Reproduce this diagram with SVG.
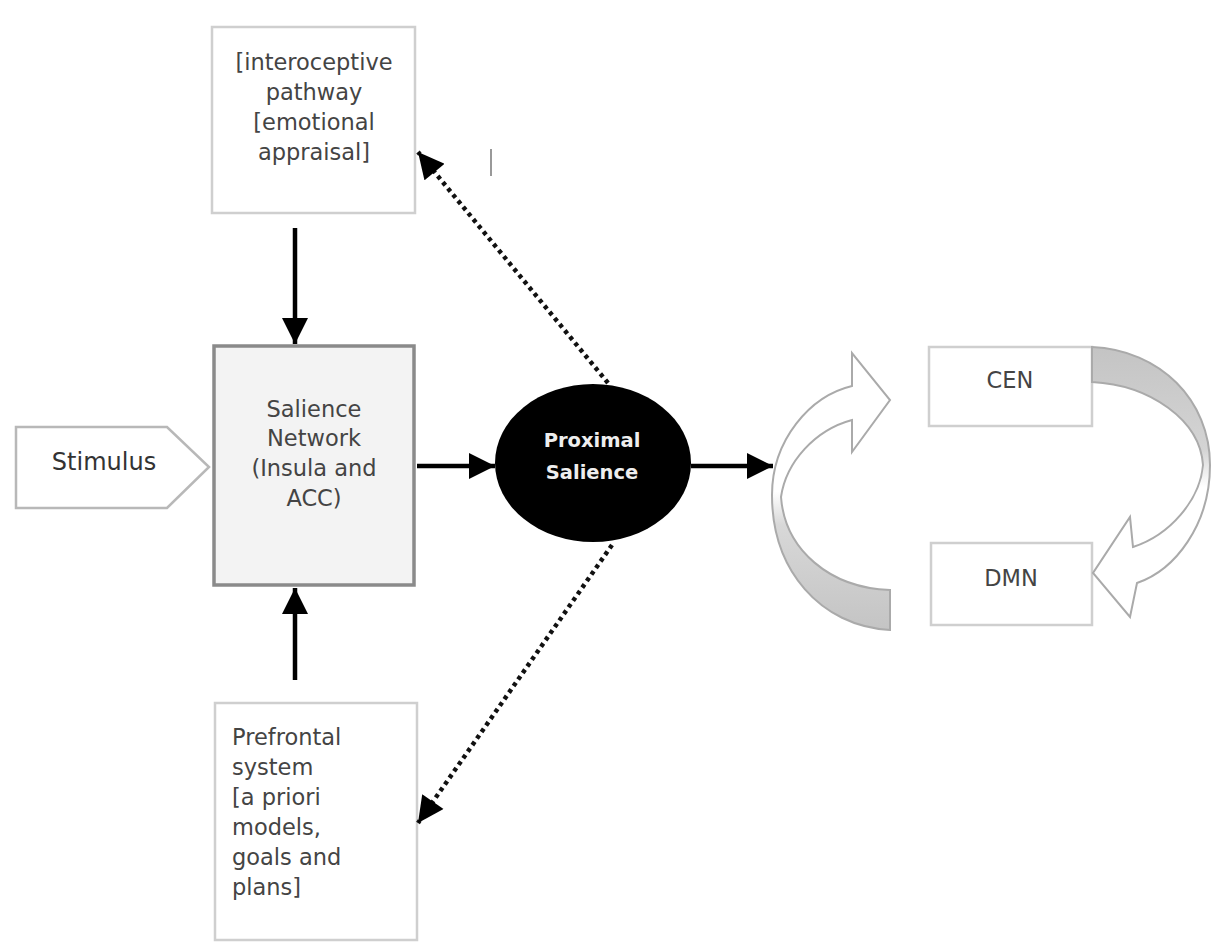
<svg xmlns="http://www.w3.org/2000/svg" width="1211" height="944" viewBox="0 0 1211 944">
<style>
.box{fill:#fff;stroke:#cfcfcf;stroke-width:2.5}
.t{font-family:"DejaVu Sans",Verdana,sans-serif;font-size:22.5px;fill:#444}
.c{text-anchor:middle}
.w{font-family:"DejaVu Sans",Verdana,sans-serif;font-size:19.5px;font-weight:bold;fill:#eee;text-anchor:middle}
.solid{stroke:#000;stroke-width:4.5;fill:none}
.dot{stroke:#111;stroke-width:4.5;fill:none;stroke-dasharray:4 4}
.curve{stroke:#aaa;stroke-width:2}
</style>
<defs>
<marker id="ah" viewBox="0 0 10 10" refX="10" refY="5" markerWidth="27" markerHeight="26" markerUnits="userSpaceOnUse" orient="auto">
<path d="M0,0 L10,5 L0,10 z" fill="#000"/>
</marker>
<linearGradient id="gl" gradientUnits="userSpaceOnUse" x1="0" y1="353" x2="0" y2="630">
<stop offset="0" stop-color="#fff"/><stop offset="0.5" stop-color="#fff"/><stop offset="0.62" stop-color="#d8d8d8"/><stop offset="1" stop-color="#c4c4c4"/>
</linearGradient>
<linearGradient id="gr" gradientUnits="userSpaceOnUse" x1="0" y1="347" x2="0" y2="617">
<stop offset="0" stop-color="#c4c4c4"/><stop offset="0.38" stop-color="#d4d4d4"/><stop offset="0.52" stop-color="#fff"/><stop offset="1" stop-color="#fff"/>
</linearGradient>
</defs>

<g id="interoceptive">
<rect class="box" x="212" y="27" width="203" height="186"/>
<text class="t c"><tspan x="314" y="70">[interoceptive</tspan><tspan x="314" y="100">pathway</tspan><tspan x="314" y="130">[emotional</tspan><tspan x="314" y="160">appraisal]</tspan></text>
</g>

<g id="salience">
<rect x="214" y="346" width="200" height="239" fill="#f3f3f3" stroke="#8a8a8a" stroke-width="3.5"/>
<text class="t c"><tspan x="314" y="417">Salience</tspan><tspan x="314" y="446">Network</tspan><tspan x="314" y="476">(Insula and</tspan><tspan x="314" y="506">ACC)</tspan></text>
</g>

<g id="prefrontal">
<rect class="box" x="215" y="703" width="202" height="237"/>
<text class="t"><tspan x="232" y="745">Prefrontal</tspan><tspan x="232" y="775">system</tspan><tspan x="232" y="805">[a priori</tspan><tspan x="232" y="835">models,</tspan><tspan x="232" y="865">goals and</tspan><tspan x="232" y="895">plans]</tspan></text>
</g>

<g id="stimulus">
<polygon points="16,427 167,427 209,467 167,508 16,508" fill="#fff" stroke="#b8b8b8" stroke-width="2.5"/>
<text class="t c" x="104" y="470" style="fill:#333;font-size:24px">Stimulus</text>
</g>

<g id="proximal">
<ellipse cx="593" cy="463" rx="98" ry="79" fill="#000"/>
<text class="w"><tspan x="592" y="447">Proximal</tspan><tspan x="592" y="479">Salience</tspan></text>
</g>

<g id="cen">
<rect class="box" x="929" y="347" width="163" height="79"/>
<text class="t c" x="1010" y="388">CEN</text>
</g>

<g id="dmn">
<rect class="box" x="931" y="543" width="161" height="82"/>
<text class="t c" x="1011" y="586">DMN</text>
</g>

<g id="cycle">
<path class="curve" fill="url(#gl)" d="M890,630 C820,626 772,570 772,495 C772,440 810,396 852,386 L852,353 L890,400 L852,452 L852,420 C815,430 786,462 781,497 C785,550 830,588 890,590 Z"/>
<path class="curve" fill="url(#gr)" d="M1092,347 C1160,350 1210,400 1210,465 C1210,525 1175,570 1137,583 L1130,617 L1093,573 L1130,517 L1133,547 C1170,535 1200,500 1203,465 C1200,420 1150,385 1092,382 Z"/>
</g>

<g id="connectors">
<line class="solid" x1="295" y1="228" x2="295" y2="344" marker-end="url(#ah)"/>
<line class="solid" x1="295" y1="680" x2="295" y2="588" marker-end="url(#ah)"/>
<line class="solid" x1="417" y1="466" x2="495" y2="466" marker-end="url(#ah)"/>
<line class="solid" x1="691" y1="466" x2="773" y2="466" marker-end="url(#ah)"/>
<line class="dot" x1="608" y1="383" x2="418" y2="152" marker-end="url(#ah)"/>
<line class="dot" x1="612" y1="545" x2="418" y2="823" marker-end="url(#ah)"/>
</g>

<line x1="491" y1="149" x2="491" y2="176" stroke="#999" stroke-width="2"/>
</svg>
